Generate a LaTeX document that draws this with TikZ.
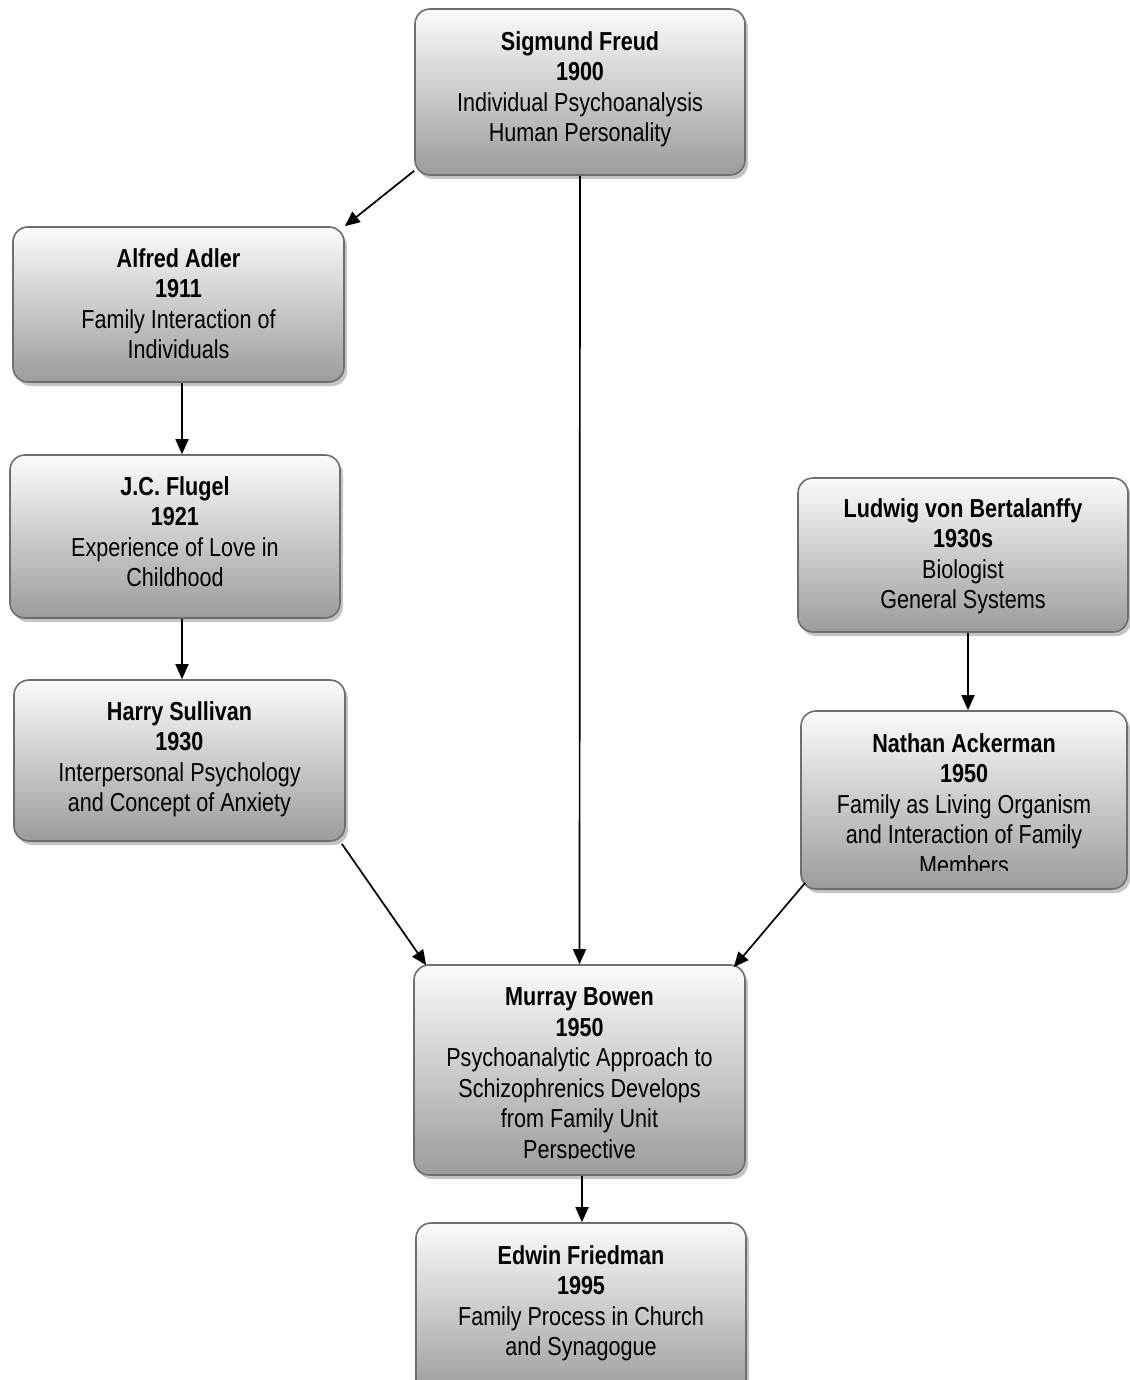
\documentclass[tikz,border=0pt]{standalone}
\usepackage{fontspec}
\setmainfont{Liberation Sans}[FakeStretch=0.83]
\usetikzlibrary{arrows.meta,shadows,calc}
\definecolor{boxtop}{HTML}{FBFBFB}
\definecolor{boxbot}{HTML}{9C9C9C}
\definecolor{boxline}{HTML}{6E6E6E}
\definecolor{shadowgray}{HTML}{C4C4C4}
\begin{document}
\begin{tikzpicture}[x=0.5pt,y=-0.5pt,
  pbox/.style={draw=boxline, line width=0.8pt, rounded corners=7.5pt,
    top color=boxtop, bottom color=boxbot, inner sep=0pt,
    drop shadow={shadow xshift=1.5pt, shadow yshift=-2pt, fill=shadowgray, opacity=1}},
  txt/.style={anchor=north, align=center, inner sep=0pt,
    font=\fontsize{13pt}{15.25pt}\selectfont},
  arr/.style={line width=0.85pt, -{Triangle[length=7.5pt,width=6.5pt]}}]
\useasboundingbox (0,0) rectangle (1129,1380);

% boxes
\node[pbox, minimum width=165pt, minimum height=83pt] (freud) at (580,92) {};
\node[pbox, minimum width=165.5pt, minimum height=77.5pt] (adler) at (178.5,304.5) {};
\node[pbox, minimum width=165pt, minimum height=81.5pt] (flugel) at (175,536.5) {};
\node[pbox, minimum width=165.5pt, minimum height=80.5pt] (sullivan) at (179.5,760.5) {};
\node[pbox, minimum width=165pt, minimum height=77pt] (bert) at (963,555) {};
\node[pbox, minimum width=163pt, minimum height=89pt] (ack) at (964,800) {};
\node[pbox, minimum width=165.5pt, minimum height=105pt] (bowen) at (579.5,1070) {};
\node[pbox, minimum width=165pt, minimum height=86pt] (friedman) at (581,1309) {};

% texts
\node[txt] (freudt) at ([yshift=-11.5pt]freud.north)
  {\textbf{Sigmund Freud}\\\textbf{1900}\\Individual Psychoanalysis\\Human Personality};
\node[txt] (adlert) at ([yshift=-11pt]adler.north)
  {\textbf{Alfred Adler}\\\textbf{1911}\\Family Interaction of\\Individuals};
\node[txt] (flugelt) at ([yshift=-11pt]flugel.north)
  {\textbf{J.C. Flugel}\\\textbf{1921}\\Experience of Love in\\Childhood};
\node[txt] (sullivant) at ([yshift=-11pt]sullivan.north)
  {\textbf{Harry Sullivan}\\\textbf{1930}\\Interpersonal Psychology\\and Concept of Anxiety};
\node[txt] (bertt) at ([yshift=-10.5pt]bert.north)
  {\textbf{Ludwig von Bertalanffy}\\\textbf{1930s}\\Biologist\\General Systems};
\begin{scope}
  \clip (ack.north west) rectangle ([yshift=9.5pt]ack.south east);
  \node[txt] (ackt) at ([yshift=-11.5pt]ack.north)
    {\textbf{Nathan Ackerman}\\\textbf{1950}\\Family as Living Organism\\and Interaction of Family\\Members};
\end{scope}
\begin{scope}
  \clip (bowen.north west) rectangle ([yshift=8.5pt]bowen.south east);
  \node[txt] (bowent) at ([yshift=-11.5pt]bowen.north)
    {\textbf{Murray Bowen}\\\textbf{1950}\\Psychoanalytic Approach to\\Schizophrenics Develops\\from Family Unit\\Perspective};
\end{scope}
\node[txt] (friedmant) at ([yshift=-11.5pt]friedman.north)
  {\textbf{Edwin Friedman}\\\textbf{1995}\\Family Process in Church\\and Synagogue};

% connectors
\coordinate (a1) at ([xshift=1.75pt]adler.south);
\coordinate (f1) at ([xshift=3.5pt]flugel.south);
\coordinate (b1) at ([xshift=2.5pt]bert.south);
\coordinate (w1) at ([xshift=1.25pt]bowen.south);
\draw[arr] ([yshift=2.5pt]freud.south west) -- (adler.north east);
\draw[arr] (freud.south) -- (bowen.north);
\draw[arr] (a1) -- (a1 |- flugel.north);
\draw[arr] (f1) -- (f1 |- sullivan.north);
\draw[arr] ([shift={(-4,2)}]sullivan.south east) -- ([shift={(13,1)}]bowen.north west);
\draw[arr] (b1) -- (b1 |- ack.north);
\draw[arr] ([shift={(5,-7)}]ack.south west) -- ([shift={(-12,3)}]bowen.north east);
\draw[arr] (w1) -- (w1 |- friedman.north);
\end{tikzpicture}
\end{document}
